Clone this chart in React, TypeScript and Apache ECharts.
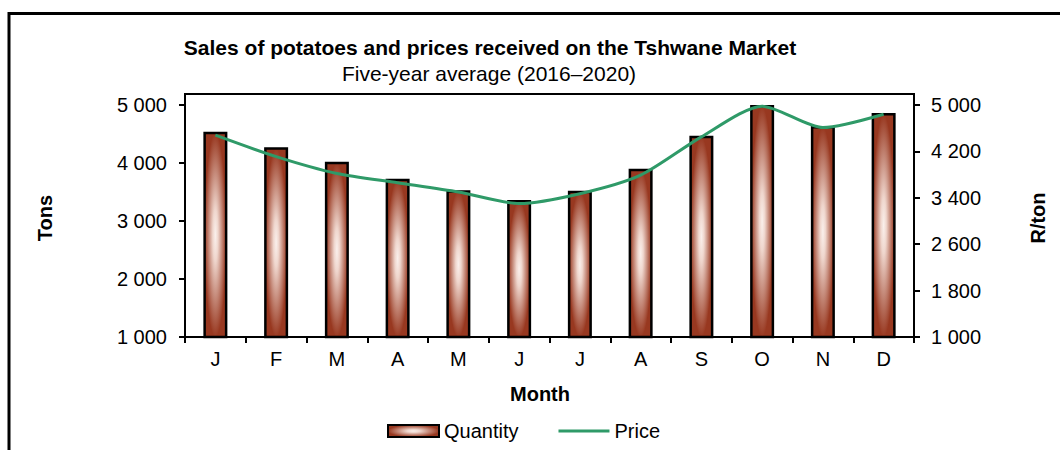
import React, { useEffect, useRef } from "react";
import * as echarts from "echarts";

const months = ["J", "F", "M", "A", "M", "J", "J", "A", "S", "O", "N", "D"];
const quantity = [4540, 4270, 4020, 3730, 3530, 3360, 3520, 3900, 4470, 5000, 4640, 4860];
const price = [4480, 4110, 3820, 3660, 3500, 3300, 3470, 3790, 4450, 4980, 4610, 4840];
const tonsTicks = [1000, 2000, 3000, 4000, 5000];
const priceTicks = [1000, 1800, 2600, 3400, 4200, 5000];

const FONT = "'Liberation Sans', Arial, sans-serif";
const fmt = (v: number) => String(Math.round(v)).replace(/\B(?=(\d{3})+(?!\d))/g, " ");

export default function App() {
  const ref = useRef<HTMLDivElement>(null);
  useEffect(() => {
    if (!ref.current) return;
    const chart = echarts.init(ref.current, undefined, { renderer: "svg" });
    const pOff = priceTicks[0];
    const pInt = priceTicks[1] - priceTicks[0];
    const option: any = {
      animation: false,
      backgroundColor: "#fff",
      textStyle: { fontFamily: FONT },
      grid: { left: 185, right: 146, top: 105, bottom: 113 },
      legend: {
        left: 387,
        top: 421,
        padding: 0,
        itemWidth: 51,
        itemHeight: 12,
        itemGap: 40,
        textStyle: { fontSize: 20, color: "#000", fontFamily: FONT },
        data: [
          { name: "Quantity", icon: "rect" },
          { name: "Price", icon: "path://M0,0h50v3H0z" },
        ],
      },
      xAxis: {
        type: "category",
        data: months,
        boundaryGap: true,
        axisLine: { lineStyle: { color: "#000", width: 2 } },
        axisTick: { show: true, alignWithLabel: false, length: 6, lineStyle: { color: "#000", width: 2 } },
        axisLabel: { color: "#000", fontSize: 20, fontFamily: FONT, margin: 12 },
        splitLine: { show: false },
      },
      yAxis: [
        {
          type: "value",
          min: tonsTicks[0],
          max: tonsTicks[tonsTicks.length - 1],
          interval: tonsTicks[1] - tonsTicks[0],
          axisLine: { show: true, lineStyle: { color: "#000", width: 2 } },
          axisTick: { show: true, length: 6, lineStyle: { color: "#000", width: 2 } },
          axisLabel: { color: "#000", fontSize: 20, fontFamily: FONT, margin: 18, formatter: (v: number) => fmt(v) },
          splitLine: { show: false },
        },
        {
          type: "value",
          position: "right",
          min: 0,
          max: priceTicks[priceTicks.length - 1] - pOff,
          interval: pInt,
          axisLine: { show: true, lineStyle: { color: "#000", width: 2 } },
          axisTick: { show: true, length: 6, lineStyle: { color: "#000", width: 2 } },
          axisLabel: { color: "#000", fontSize: 20, fontFamily: FONT, margin: 17, formatter: (v: number) => fmt(v + pOff) },
          splitLine: { show: false },
        },
      ],
      series: [
        {
          name: "Quantity",
          type: "bar",
          yAxisIndex: 0,
          barWidth: 24,
          data: quantity,
          itemStyle: {
            color: {
              type: "radial",
              x: 0.5,
              y: 0.5,
              r: 0.5,
              colorStops: [
                { offset: 0, color: "#faf0ec" },
                { offset: 0.25, color: "#efd6cd" },
                { offset: 1, color: "#983820" },
              ],
            },
            borderColor: "#000",
            borderWidth: 2.5,
          },
        },
        {
          name: "Price",
          type: "line",
          yAxisIndex: 0,
          data: price,
          symbol: "none",
          smooth: 0.25,
          lineStyle: { color: "#2f9a68", width: 3 },
          itemStyle: { color: "#2f9a68" },
        },
      ],
      graphic: [
        {
          type: "rect",
          shape: { x: 9, y: 13.5, width: 1200, height: 600 },
          style: { fill: "none", stroke: "#000", lineWidth: 3 },
          silent: true,
        },
        {
          type: "polyline",
          shape: { points: [[185, 105], [185, 94], [914, 94], [914, 105]] },
          style: { fill: "none", stroke: "#000", lineWidth: 2 },
          silent: true,
        },
        {
          type: "text",
          x: 490,
          y: 47,
          style: {
            text: "Sales of potatoes and prices received on the Tshwane Market",
            font: `bold 21px ${FONT}`,
            fill: "#000",
            textAlign: "center",
            textVerticalAlign: "middle",
          },
        },
        {
          type: "text",
          x: 489,
          y: 73,
          style: {
            text: "Five-year average (2016–2020)",
            font: `21px ${FONT}`,
            fill: "#000",
            textAlign: "center",
            textVerticalAlign: "middle",
          },
        },
        {
          type: "text",
          x: 45,
          y: 218,
          rotation: Math.PI / 2,
          style: {
            text: "Tons",
            font: `bold 20px ${FONT}`,
            fill: "#000",
            textAlign: "center",
            textVerticalAlign: "middle",
          },
        },
        {
          type: "text",
          x: 1038,
          y: 218,
          rotation: Math.PI / 2,
          style: {
            text: "R/ton",
            font: `bold 20px ${FONT}`,
            fill: "#000",
            textAlign: "center",
            textVerticalAlign: "middle",
          },
        },
        {
          type: "text",
          x: 540,
          y: 394,
          style: {
            text: "Month",
            font: `bold 20px ${FONT}`,
            fill: "#000",
            textAlign: "center",
            textVerticalAlign: "middle",
          },
        },
      ],
    };
    chart.setOption(option);
    return () => chart.dispose();
  }, []);
  return <div ref={ref} style={{ position: "absolute", left: 0, top: 0, width: 1060, height: 450 }} />;
}
